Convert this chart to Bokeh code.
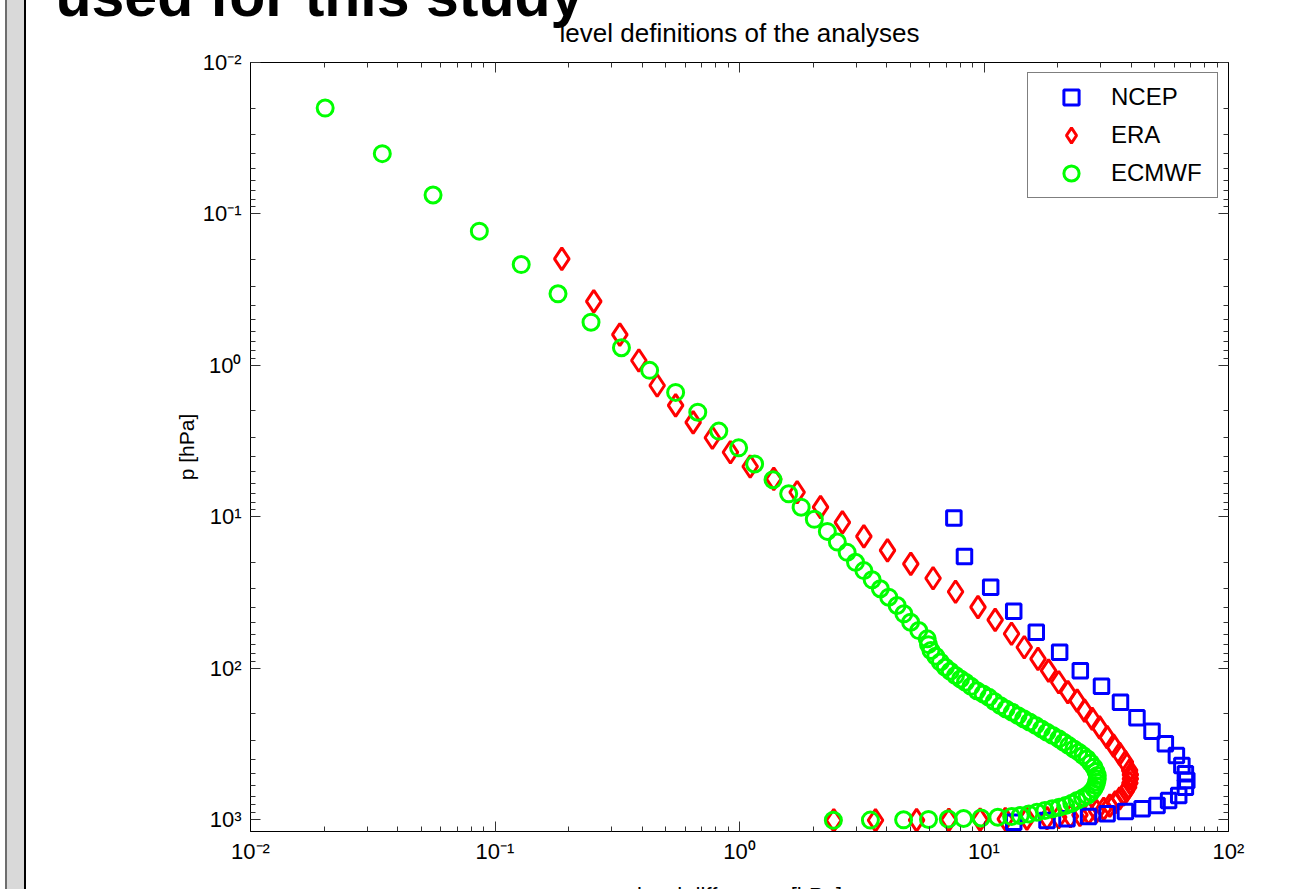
from bokeh.plotting import figure
from bokeh.models import (Range1d, LogAxis, FixedTicker, CustomJSTickFormatter,
                          Legend, LegendItem, Label, Div)
from bokeh.layouts import row
from bokeh.embed import file_html
from bokeh.resources import INLINE

# ---------------- data ----------------
ncep_dp = [7.53, 8.32, 10.65, 13.23, 16.36, 20.39, 24.77, 30.24, 36.16, 42.23,
           48.66, 55.17, 61.22, 64.46, 66.63, 67.53, 66.63, 62.57, 56.89, 51.02,
           44.32, 37.88, 31.88, 26.78, 21.85, 18.10, 13.23]
ncep_p = [10.2, 18.3, 29.2, 42.1, 57.9, 78.5, 104, 132, 168, 213,
          261, 316, 378, 440, 499, 552, 612, 694, 749, 809,
          850, 885, 917, 955, 989, 1016, 1042]

era_dp = [0.1876, 0.2535, 0.3240, 0.3876, 0.4606, 0.548, 0.6464, 0.7744, 0.9183, 1.106,
          1.381, 1.721, 2.145, 2.635, 3.226, 4.030, 5.019, 6.191, 7.65, 9.45,
          11.11, 12.96, 14.61, 16.63, 18.37, 20.21, 22.03, 24.04, 25.78, 27.69,
          29.70, 31.88, 33.88, 35.88, 37.88, 39.42, 39.69, 39.69, 39.51, 39.06,
          38.24, 37.24, 35.88, 34.43, 32.70, 30.88, 28.88, 26.78, 24.68, 22.58,
          20.21, 18.10, 14.98, 12.22, 9.64, 7.18, 5.30, 3.60, 2.43]
era_p = [0.198, 0.378, 0.627, 0.929, 1.36, 1.84, 2.38, 3.01, 3.75, 4.66,
         5.62, 6.89, 8.65, 10.9, 13.5, 16.7, 20.5, 25.5, 31.3, 39.6,
         48.0, 59.3, 72.8, 86.8, 104, 124, 144, 164, 191, 216,
         246, 286, 325, 368, 418, 474, 505, 538, 574, 612,
         648, 684, 726, 769, 810, 850, 880, 908, 932, 952,
         966, 978, 987, 995, 1001, 1006, 1009, 1011, 1012.5]

ecmwf_dp = [0.0202, 0.0346, 0.0558, 0.0863, 0.128, 0.181, 0.247, 0.329, 0.429, 0.548,
            0.675, 0.823, 0.992, 1.153, 1.371, 1.589, 1.787, 2.023, 2.287, 2.513,
            2.756, 2.982, 3.226, 3.488, 3.768, 4.077, 4.413, 4.702, 5.010, 5.410,
            5.857, 5.93, 6.07, 6.35, 6.63, 6.95, 7.28, 7.65, 8.02, 8.40,
            8.85, 9.36, 9.91, 10.47, 11.02, 11.67, 12.31, 13.05, 13.78, 14.52,
            15.35, 16.26, 17.18, 18.10, 19.11, 20.21, 21.21, 22.22, 23.31, 24.41,
            25.41, 26.42, 27.33, 28.15, 28.70, 29.06, 29.06, 28.88, 28.60, 28.15,
            27.42, 26.42, 25.32, 24.04, 22.86, 21.58, 20.30, 19.02, 17.75, 16.46,
            15.26, 14.07, 12.97, 11.39, 9.73, 8.25, 7.14, 5.93, 4.69, 3.43, 2.42]
ecmwf_p = [0.020, 0.040, 0.075, 0.130, 0.216, 0.337, 0.519, 0.765, 1.08, 1.51,
           2.04, 2.72, 3.51, 4.48, 5.70, 7.06, 8.65, 10.4, 12.5, 14.7,
           17.2, 20.0, 22.7, 26.1, 29.9, 34.0, 38.6, 43.8, 49.8, 56.5,
           64.1, 70.0, 76.5, 83.5, 91.0, 98.6, 105, 112, 118, 124,
           132, 141, 148, 156, 166, 177, 186, 196, 206, 216,
           227, 239, 252, 265, 279, 293, 309, 325, 342, 359,
           378, 397, 423, 451, 481, 512, 540, 567, 597, 627,
           660, 694, 722, 749, 780, 809, 830, 850, 873, 895,
           918, 942, 955, 966, 976, 985, 993, 999, 1005, 1009, 1012]

series_names = ["NCEP", "ERA", "ECMWF"]

x_tick_values = [0.01, 0.1, 1, 10, 100]
x_tick_labels = ["10⁻²", "10⁻¹", "10⁰", "10¹", "10²"]
y_tick_values = [0.01, 0.1, 1, 10, 100, 1000]
y_tick_labels = ["10⁻²", "10⁻¹", "10⁰", "10¹", "10²", "10³"]

title_text = "level definitions of the analyses"
slide_text = "used for this study"
x_label_text = "level difference [hPa]"
y_label_text = "p [hPa]"

# ---------------- layout geometry ----------------
FONT = "Liberation Sans"
STRIP_X0, STRIP_W = 5, 21            # grey slide strip on the left
X0 = STRIP_X0 + STRIP_W              # page x where the figure canvas starts
M = 80                               # canvas extends M px above the page top
W = 1296 - X0
H = 889 + M
FL, FR, FT, FB = 250 - X0, 1228 - X0, 62 + M, 831 + M   # frame in canvas px

p = figure(width=W, height=H, x_axis_type="log", y_axis_type="log",
           x_range=Range1d(0.01, 100), y_range=Range1d(1200, 0.01),
           output_backend="svg", toolbar_location=None,
           min_border_left=FL, min_border_right=W - FR,
           min_border_top=FT, min_border_bottom=H - FB,
           margin=(-M, 0, 0, 0))
p.background_fill_color = "white"
p.border_fill_color = "white"
p.outline_line_color = "black"
p.xgrid.visible = False
p.ygrid.visible = False
p.title.visible = False

def minors(lo, hi):
    out = []
    for e in range(lo, hi + 1):
        for k in range(2, 10):
            out.append(k * 10.0 ** e)
    return out

def fmt(vals, labs):
    return CustomJSTickFormatter(args=dict(vals=vals, labs=labs), code="""
        for (let i = 0; i < vals.length; i++) {
            if (Math.abs(Math.log10(vals[i]) - Math.log10(tick)) < 1e-6) return labs[i];
        }
        return "";
    """)

def style_axis(ax, show_labels):
    ax.major_tick_in = 10
    ax.major_tick_out = 0
    ax.minor_tick_in = 5
    ax.minor_tick_out = 0
    ax.axis_line_color = "black"
    ax.major_tick_line_color = "#333333"
    ax.minor_tick_line_color = "#333333"
    ax.major_label_text_font = FONT
    ax.major_label_text_color = "black"
    if show_labels:
        ax.major_label_text_font_size = "22px"
    else:
        ax.major_label_text_font_size = "1px"
        ax.major_label_text_alpha = 0
        ax.major_label_standoff = 0

p.xaxis.ticker = FixedTicker(ticks=x_tick_values, minor_ticks=minors(-2, 1))
p.yaxis.ticker = FixedTicker(ticks=y_tick_values, minor_ticks=minors(-2, 3))
p.xaxis.formatter = fmt(x_tick_values, x_tick_labels)
p.yaxis.formatter = fmt(y_tick_values, y_tick_labels)
style_axis(p.xaxis[0], True)
style_axis(p.yaxis[0], True)
p.xaxis.major_label_standoff = 7
p.yaxis.major_label_standoff = 9
p.yaxis.axis_label = y_label_text
p.yaxis.axis_label_text_font = FONT
p.yaxis.axis_label_text_font_size = "21px"
p.yaxis.axis_label_text_font_style = "normal"
p.yaxis.axis_label_text_color = "black"
p.yaxis.axis_label_standoff = 2

top_ax = LogAxis(ticker=FixedTicker(ticks=x_tick_values, minor_ticks=minors(-2, 1)),
                 formatter=fmt(x_tick_values, x_tick_labels))
right_ax = LogAxis(ticker=FixedTicker(ticks=y_tick_values, minor_ticks=minors(-2, 3)),
                   formatter=fmt(y_tick_values, y_tick_labels))
style_axis(top_ax, False)
style_axis(right_ax, False)
p.add_layout(top_ax, "above")
p.add_layout(right_ax, "right")

# ---------------- data marks ----------------
r_era = p.scatter(era_dp, era_p, marker="diamond", size=22, fill_alpha=0,
                  line_color="#ff0000", line_width=3)
r_ncep = p.scatter(ncep_dp, ncep_p, marker="square", size=14.5, fill_alpha=0,
                   line_color="#0000ff", line_width=3)
r_ecmwf = p.scatter(ecmwf_dp, ecmwf_p, marker="circle", size=16, fill_alpha=0,
                    line_color="#00ff00", line_width=3)

legend = Legend(items=[LegendItem(label=series_names[0], renderers=[r_ncep]),
                       LegendItem(label=series_names[1], renderers=[r_era]),
                       LegendItem(label=series_names[2], renderers=[r_ecmwf])],
                location="top_right", margin=10, padding=5, spacing=0,
                glyph_height=38, glyph_width=76, label_height=38, label_standoff=2,
                label_width=101,
                label_text_font=FONT, label_text_font_size="24px",
                label_text_color="black",
                border_line_color="black", border_line_width=1,
                background_fill_color="white", background_fill_alpha=1)
p.add_layout(legend)

# ---------------- texts placed in canvas pixels (side panel => not clipped) --------
title_lbl = Label(x=739 - X0, y=32 + M, x_units="canvas", y_units="canvas",
                  text=title_text, text_font=FONT, text_font_size="26px",
                  text_baseline="alphabetic", text_align="center", text_color="black")
big_lbl = Label(x=55 - X0, y=-5 + M, x_units="canvas", y_units="canvas",
                text=slide_text, text_font=FONT, text_font_style="bold",
                text_font_size="59px", text_baseline="alphabetic",
                text_align="left", text_color="black")
xlab_lbl = Label(x=739 - X0, y=882 + M, x_units="canvas", y_units="canvas",
                 text=x_label_text, text_font=FONT, text_font_size="22px",
                 text_baseline="top", text_align="center", text_color="black")
p.add_layout(title_lbl, "above")
p.add_layout(big_lbl, "above")
p.add_layout(xlab_lbl, "above")

# ---------------- grey slide strip ----------------
strip = Div(text="", width=STRIP_W, height=889, margin=(0, 0, 0, STRIP_X0),
            styles={"background-color": "#d9d9d9",
                    "border-left": "2px solid #6e6e6e",
                    "border-right": "2px solid #000000",
                    "box-sizing": "border-box", "padding": "0px"})

root = row(strip, p, spacing=0)

with open("out.html", "w", encoding="utf-8") as f:
    f.write(file_html(root, INLINE))
